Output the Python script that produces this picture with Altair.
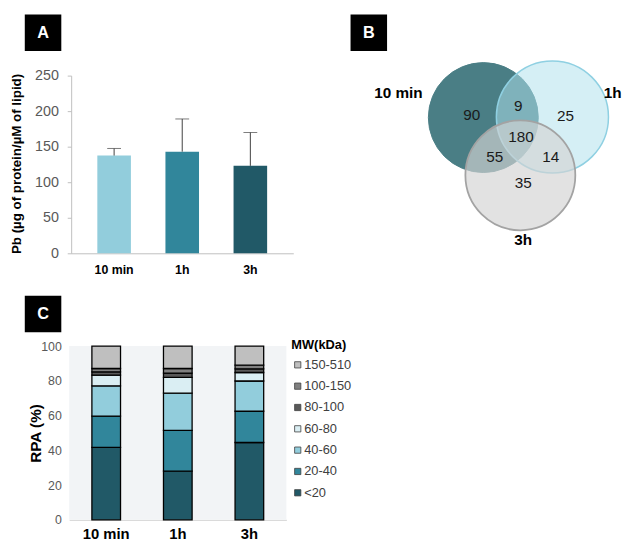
import altair as alt
import pandas as pd

# ---------------- data ----------------
times = ["10 min", "1h", "3h"]

# Panel A: Pb (µg of protein / µM of lipid)
pb_mean = [137.5, 143.0, 123.0]
pb_upper = [147.5, 189.0, 170.0]

# Panel B: Venn diagram counts
venn_sets = ["10 min", "1h", "3h"]
venn_regions = ["10 min only", "10 min & 1h", "1h only", "all three",
                "10 min & 3h", "1h & 3h", "3h only"]
venn_counts = [90, 9, 25, 180, 55, 14, 35]

# Panel C: relative protein abundance (%) by MW class
mw_classes = ["<20", "20-40", "40-60", "60-80", "80-100", "100-150", "150-510"]
rpa_10min = [41.7, 18.0, 17.4, 6.2, 1.9, 1.9, 12.9]
rpa_1h = [28.0, 23.5, 21.4, 9.1, 2.5, 2.6, 12.9]
rpa_3h = [44.5, 18.0, 17.4, 4.9, 2.1, 2.1, 11.0]

# ---------------- styles / layout ----------------
FONT = "Liberation Sans"
M = 8
W, H = 623, 536


def P(v):
    return v - M


colA = ["#92cddc", "#31869b", "#215967"]
mw_colors = ["#215967", "#31869b", "#92cddc", "#daeef3", "#595959", "#808080", "#bfbfbf"]

# venn layout (unit = circle radius)
venn_circle_x = [0.0, 1.25, 0.67]
venn_circle_y = [0.0, -0.01, 1.045]
venn_num_x = [-0.21, 0.634, 1.486, 0.682, 0.205, 1.218, 0.723]
venn_num_y = [-0.04, -0.2, -0.02, 0.348, 0.718, 0.718, 1.182]

# ---------------- Panel A ----------------
dfA = pd.DataFrame({"time": times, "mean": pb_mean, "upper": pb_upper})

xA = alt.X("time:N", sort=times,
           scale=alt.Scale(domain=times, range=[P(72), P(297)],
                           paddingInner=0.507, paddingOuter=0.384),
           axis=alt.Axis(orient="bottom", offset=P(253) - H, title=None, labelAngle=0,
                         labelFont=FONT, labelFontSize=12.5, labelFontWeight="bold",
                         labelColor="#000000", labelPadding=10, ticks=False,
                         domainColor="#bfbfbf", domainWidth=1))


def yA(field):
    return alt.Y(field, type="quantitative",
                 scale=alt.Scale(domain=[0, 250], range=[P(253), P(73)], nice=False),
                 axis=alt.Axis(orient="left", offset=-P(72), values=[0, 50, 100, 150, 200, 250],
                               grid=False, title="Pb (µg of protein/µM of lipid)",
                               titleX=17 - 72, titleY=P(162), titleBaseline="middle",
                               titleFont=FONT, titleFontSize=13.5, titleFontWeight="bold",
                               titleColor="#000000", labelFont=FONT, labelFontSize=14.5,
                               labelColor="#595959", labelPadding=9, tickSize=4,
                               tickColor="#bfbfbf", domainColor="#bfbfbf"))


barsA = alt.Chart(dfA).mark_bar().encode(
    x=xA, y=yA("mean"),
    color=alt.Color("time:N", scale=alt.Scale(domain=times, range=colA), legend=None),
)
errA = alt.Chart(dfA).mark_rule(color="#404040", strokeWidth=1).encode(
    x=xA, y=yA("mean"), y2="upper:Q")
capA = alt.Chart(dfA).mark_tick(color="#404040", size=14, thickness=1).encode(
    x=xA, y=yA("upper"))
panelA = alt.layer(barsA, errA, capA)

# ---------------- Panel B (Venn) ----------------
dfCirc = pd.DataFrame({"set": venn_sets, "cx": venn_circle_x, "cy": venn_circle_y})
dfNum = pd.DataFrame({"region": venn_regions, "count": venn_counts,
                      "cx": venn_num_x, "cy": venn_num_y})

xV = alt.X("cx:Q", scale=alt.Scale(domain=[0, 1], range=[P(489.5), P(545.5)],
                                   zero=False, nice=False), axis=None)
yV = alt.Y("cy:Q", scale=alt.Scale(domain=[0, 1], range=[P(115.5), P(171.5)],
                                   zero=False, nice=False), axis=None)

c10 = alt.Chart(dfCirc).transform_filter(alt.datum.set == "10 min").mark_circle(
    size=12400, fill="#4a7e85", fillOpacity=1, stroke="#4a7e85", strokeWidth=1
).encode(x=xV, y=yV)
c1h = alt.Chart(dfCirc).transform_filter(alt.datum.set == "1h").mark_circle(
    size=12900, fill="#afe0ec", fillOpacity=0.53, stroke="#8fd0e2", strokeWidth=1.5,
    strokeOpacity=1
).encode(x=xV, y=yV)
c3h = alt.Chart(dfCirc).transform_filter(alt.datum.set == "3h").mark_circle(
    size=12400, fill="#d3d3d3", fillOpacity=0.66, stroke="#a3a3a3", strokeWidth=1.8,
    strokeOpacity=1
).encode(x=xV, y=yV)

nums = alt.Chart(dfNum).mark_text(font=FONT, fontSize=15.5, color="#1a1a1a").encode(
    x=xV, y=yV, text="count:Q")

lab10 = alt.Chart(dfCirc).transform_filter(alt.datum.set == "10 min").mark_text(
    font=FONT, fontSize=15.5, fontWeight="bold", color="#000000", align="right",
    dx=-1.098 * 56, dy=-0.4375 * 56).encode(x=xV, y=yV, text="set:N")
lab1h = alt.Chart(dfCirc).transform_filter(alt.datum.set == "1h").mark_text(
    font=FONT, fontSize=15.5, fontWeight="bold", color="#000000", align="left",
    dx=(2.18 - 1.25) * 56, dy=(-0.4375 + 0.01) * 56).encode(x=xV, y=yV, text="set:N")
lab3h = alt.Chart(dfCirc).transform_filter(alt.datum.set == "3h").mark_text(
    font=FONT, fontSize=15.5, fontWeight="bold", color="#000000", align="center",
    dx=(0.723 - 0.67) * 56, dy=(2.223 - 1.045) * 56).encode(x=xV, y=yV, text="set:N")

panelB = alt.layer(c10, c1h, c3h, nums, lab10, lab1h, lab3h)

# ---------------- Panel C ----------------
rows = []
for t, vals in zip(times, [rpa_10min, rpa_1h, rpa_3h]):
    for i, (mw, v) in enumerate(zip(mw_classes, vals)):
        rows.append({"time": t, "mw": mw, "value": v, "rank": i})
dfC = pd.DataFrame(rows)

legend_order = list(reversed(mw_classes))
legend_colors = list(reversed(mw_colors))

barsC = alt.Chart(dfC).mark_bar(stroke="#000000", strokeWidth=1.3).encode(
    x=alt.X("time:N", sort=times,
            scale=alt.Scale(domain=times, range=[P(70), P(290)],
                            paddingInner=0.6, paddingOuter=0.317),
            axis=alt.Axis(orient="bottom", offset=P(523) - H, title=None, labelAngle=0,
                          labelFont=FONT, labelFontSize=15, labelFontWeight="bold",
                          labelColor="#000000", labelPadding=7, ticks=False,
                          domainColor="#d0d0d0")),
    y=alt.Y("value:Q", stack="zero",
            scale=alt.Scale(domain=[0, 100], range=[P(523), P(347)], nice=False),
            axis=alt.Axis(orient="left", offset=-P(70), values=[0, 20, 40, 60, 80, 100],
                          grid=False, domain=False, ticks=False, labelFont=FONT,
                          labelFontSize=12.5, labelColor="#595959", labelPadding=8,
                          title="RPA (%)", titleX=36 - 70, titleY=P(435),
                          titleBaseline="middle", titleFont=FONT, titleFontSize=15.5,
                          titleFontWeight="bold", titleColor="#000000")),
    color=alt.Color("mw:N", scale=alt.Scale(domain=legend_order, range=legend_colors),
                    legend=alt.Legend(orient="none", legendX=P(295), legendY=P(339.5),
                                      title="MW(kDa)", titleFont=FONT, titleFontSize=13,
                                      titleFontWeight="bold", titleColor="#000000",
                                      titlePadding=7, labelFont=FONT, labelFontSize=13,
                                      labelColor="#404040", labelOffset=0,
                                      rowPadding=7.6, padding=0, symbolType="square",
                                      symbolSize=40, symbolStrokeColor="#404040",
                                      symbolStrokeWidth=0.8)),
    order=alt.Order("rank:Q", sort="ascending"),
)

bgC = alt.Chart(pd.DataFrame({"panel": ["C"]})).mark_rect(color="#f2f4f6").encode(
    x=alt.value(P(70)), x2=alt.value(P(290)), y=alt.value(P(347)), y2=alt.value(P(523)))


# ---------------- panel letter boxes ----------------
def letter(ch, x0, y0):
    d = pd.DataFrame({"panel": [ch]})
    box = alt.Chart(d).mark_rect(color="#000000").encode(
        x=alt.value(P(x0)), x2=alt.value(P(x0 + 37)), y=alt.value(P(y0)), y2=alt.value(P(y0 + 37)))
    txt = alt.Chart(d).mark_text(font=FONT, fontSize=16.5, fontWeight="bold", color="#ffffff",
                                 baseline="middle", align="center").encode(
        x=alt.value(P(x0 + 18.5)), y=alt.value(P(y0 + 19)), text="panel:N")
    return [box, txt]


deco = letter("A", 25, 11) + letter("B", 355, 11) + letter("C", 25, 296)

chart = alt.layer(bgC, panelA, panelB, barsC, *deco).resolve_scale(
    x="independent", y="independent", color="independent"
).properties(
    width=W, height=H, padding=0, autosize=alt.AutoSizeParams(type="none"),
    background="#ffffff"
).configure_view(stroke=None)

chart.save("out.html", embed_options={"renderer": "svg", "actions": False})
